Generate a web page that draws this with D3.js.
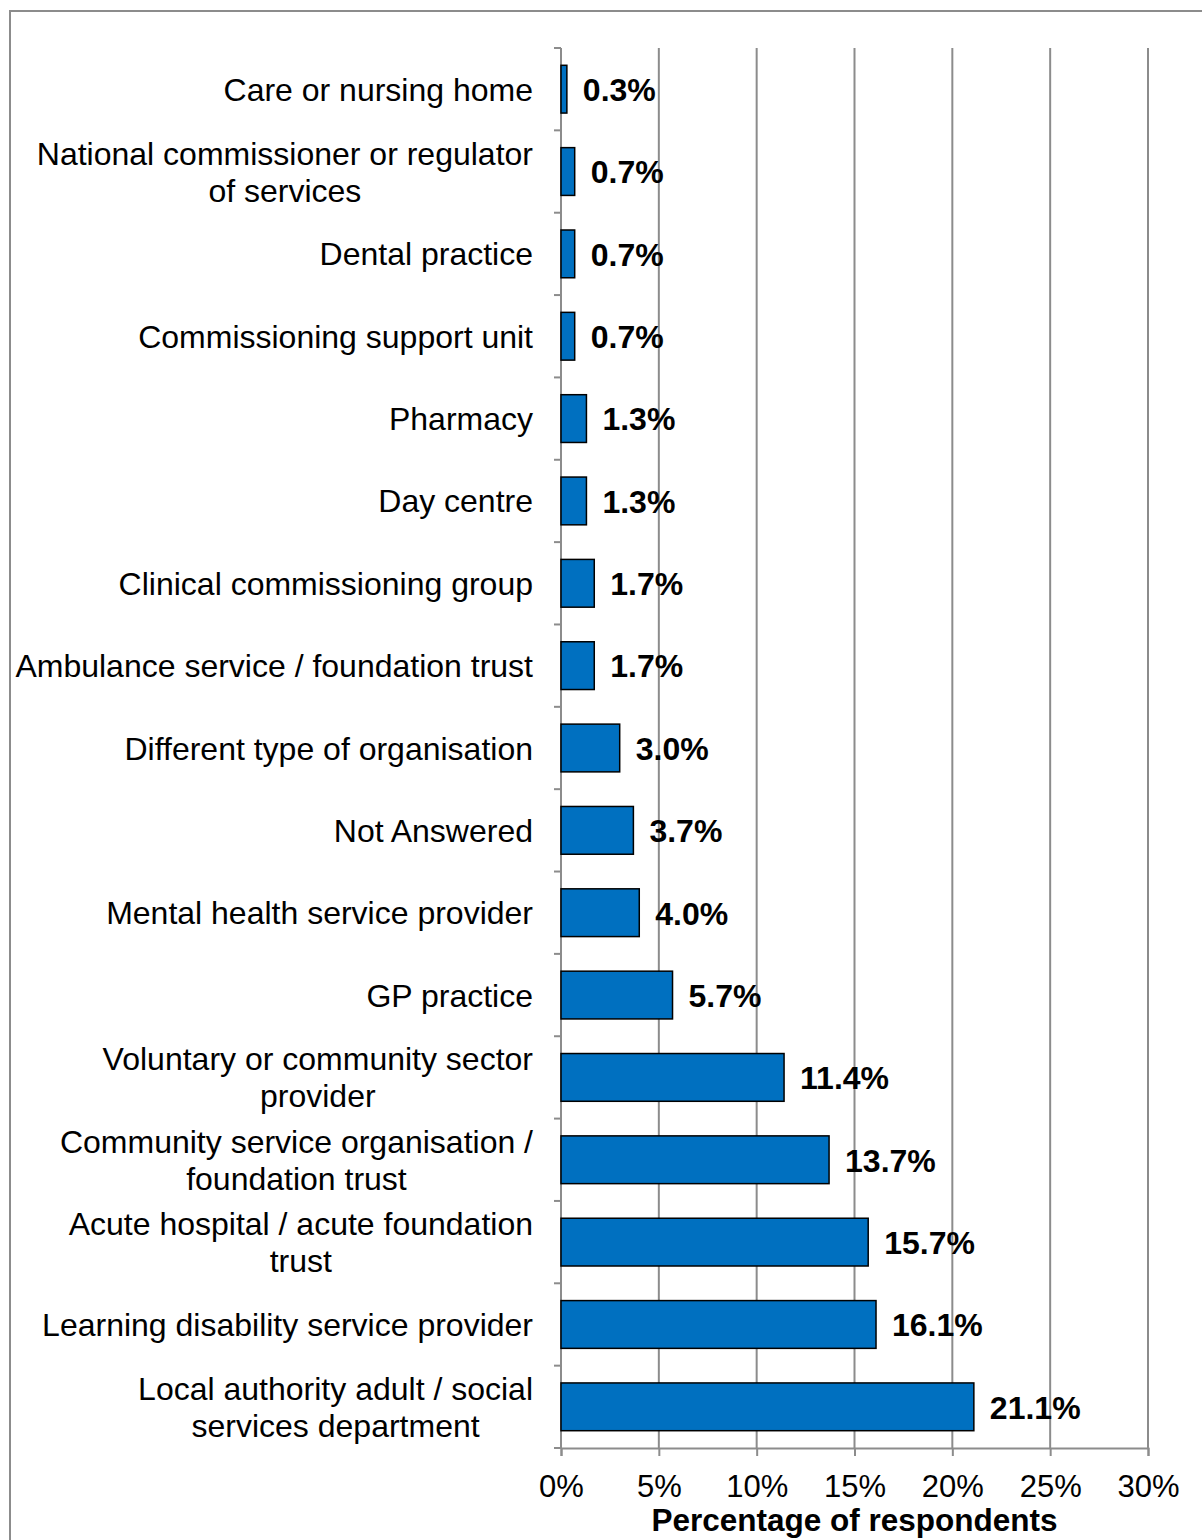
<!DOCTYPE html>
<html>
<head>
<meta charset="utf-8">
<script src="https://cdn.jsdelivr.net/npm/d3@7"></script>
<style>
  html, body { margin: 0; padding: 0; background: #fff; }
  svg { display: block; font-family: "Liberation Sans", Arial, sans-serif; }
</style>
</head>
<body>
<svg id="chart" width="1202" height="1540"></svg>
<script>
// Organisation types, top to bottom; "|" marks a line break in the label
const categories = [
  "Care or nursing home",
  "National commissioner or regulator|of services",
  "Dental practice",
  "Commissioning support unit",
  "Pharmacy",
  "Day centre",
  "Clinical commissioning group",
  "Ambulance service / foundation trust",
  "Different type of organisation",
  "Not Answered",
  "Mental health service provider",
  "GP practice",
  "Voluntary or community sector|provider",
  "Community service organisation /|foundation trust",
  "Acute hospital / acute foundation|trust",
  "Learning disability service provider",
  "Local authority adult / social|services department"
];
// Share of respondents (%)
const values = [0.3, 0.7, 0.7, 0.7, 1.3, 1.3, 1.7, 1.7, 3.0, 3.7, 4.0, 5.7, 11.4, 13.7, 15.7, 16.1, 21.1];
const xTicks = [0, 5, 10, 15, 20, 25, 30];
const xTitle = "Percentage of respondents";

const svg = d3.select("#chart");
const grey = "#8c8c8c";

// outer frame of the chart area
svg.append("rect")
  .attr("x", 10).attr("y", 11)
  .attr("width", 1300).attr("height", 1700)
  .attr("fill", "none").attr("stroke", grey).attr("stroke-width", 2);

const plot = { left: 561, right: 1148, top: 48, bottom: 1448 };

const x = d3.scaleLinear().domain([0, 30]).range([plot.left, plot.right]);
const y = d3.scaleBand().domain(categories).range([plot.top, plot.bottom]).paddingInner(0.42).paddingOuter(0.21);
const band = d3.scaleBand().domain(categories).range([plot.top, plot.bottom]);

// vertical gridlines
svg.append("g").selectAll("line").data(xTicks.slice(1)).join("line")
  .attr("x1", d => x(d)).attr("x2", d => x(d))
  .attr("y1", plot.top).attr("y2", plot.bottom)
  .attr("stroke", grey).attr("stroke-width", 2);

// bottom axis
const xAxis = svg.append("g").attr("transform", `translate(0,${plot.bottom})`)
  .call(d3.axisBottom(x).tickValues(xTicks).tickFormat(d => d + "%").tickSize(8).tickPadding(19));
xAxis.select(".domain").attr("stroke", grey).attr("stroke-width", 2);
xAxis.selectAll(".tick line").attr("stroke", grey).attr("stroke-width", 2);
xAxis.selectAll(".tick text")
  .attr("fill", "#000").attr("font-size", 31)
  .attr("font-family", "Liberation Sans, Arial, sans-serif");

// left axis with ticks on category boundaries
const boundaries = categories.map(c => band(c)).concat([plot.bottom]);
svg.append("line")
  .attr("x1", plot.left).attr("x2", plot.left)
  .attr("y1", plot.top).attr("y2", plot.bottom)
  .attr("stroke", grey).attr("stroke-width", 2);
svg.append("g").selectAll("line").data(boundaries).join("line")
  .attr("x1", plot.left - 7).attr("x2", plot.left)
  .attr("y1", d => d).attr("y2", d => d)
  .attr("stroke", grey).attr("stroke-width", 2);

// bars
svg.append("g").selectAll("rect").data(values).join("rect")
  .attr("x", x(0))
  .attr("y", (d, i) => y(categories[i]))
  .attr("width", d => x(d) - x(0))
  .attr("height", y.bandwidth())
  .attr("fill", "#0070C0")
  .attr("stroke", "#000").attr("stroke-width", 1.5);

// value labels
svg.append("g").selectAll("text").data(values).join("text")
  .attr("x", d => x(d) + 16)
  .attr("y", (d, i) => band(categories[i]) + band.bandwidth() / 2)
  .attr("dy", "0.37em")
  .attr("font-size", 32).attr("font-weight", "bold")
  .attr("fill", "#000")
  .text(d => d.toFixed(1) + "%");

// category labels: block right-aligned, lines centred within the block
const labelRight = 533;
const lineH = 37;
const labels = svg.append("g").attr("font-size", 32).attr("fill", "#000");
categories.forEach(c => {
  const lines = c.split("|");
  const cy = band(c) + band.bandwidth() / 2;
  const g = labels.append("g");
  const texts = lines.map((ln, k) => g.append("text")
    .attr("y", cy + (k - (lines.length - 1) / 2) * lineH)
    .attr("dy", "0.36em")
    .attr("text-anchor", "middle")
    .text(ln));
  const w = d3.max(texts, t => t.node().getComputedTextLength());
  texts.forEach(t => t.attr("x", labelRight - w / 2));
});

// axis title
svg.append("text")
  .attr("x", (plot.left + plot.right) / 2)
  .attr("y", 1531)
  .attr("text-anchor", "middle")
  .attr("font-size", 31.5).attr("font-weight", "bold")
  .attr("fill", "#000")
  .text(xTitle);
</script>
</body>
</html>
